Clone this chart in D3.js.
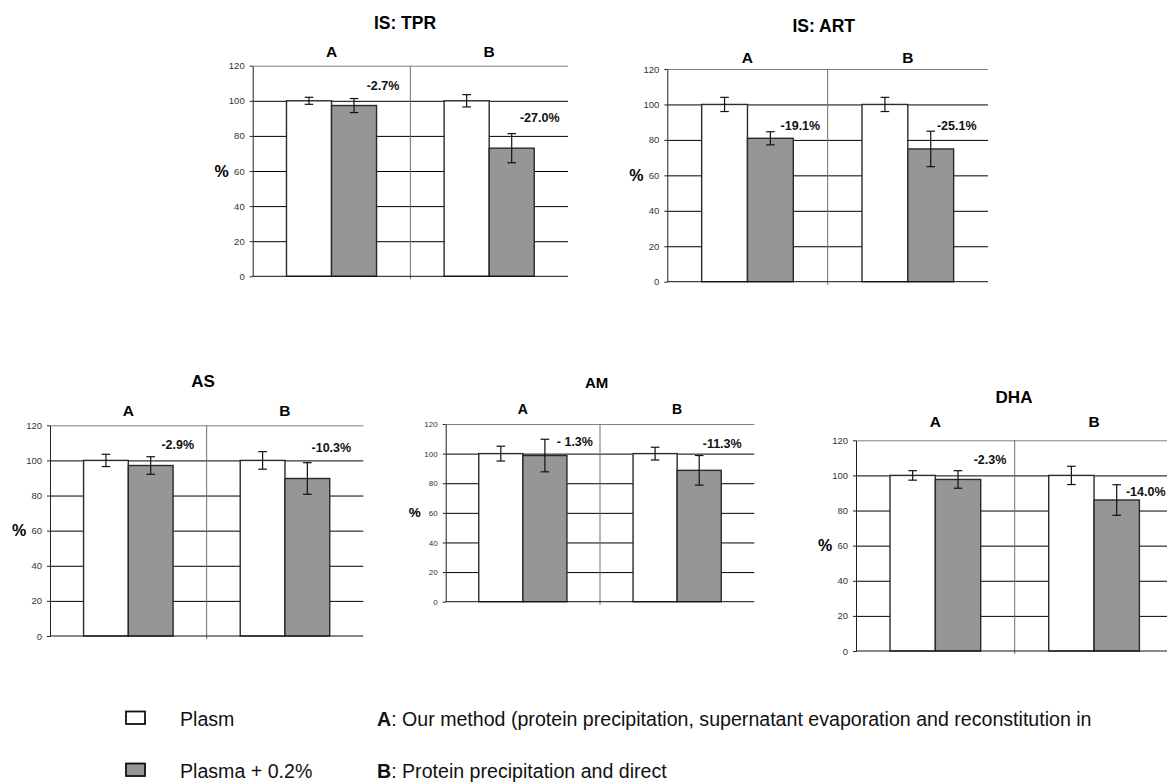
<!DOCTYPE html>
<html>
<head>
<meta charset="utf-8">
<script src="https://cdn.jsdelivr.net/npm/d3@7/dist/d3.min.js"></script>
<style>
  html, body { margin: 0; padding: 0; background: #fff; }
  svg { display: block; font-family: "Liberation Sans", Arial, sans-serif; }
</style>
</head>
<body>
<svg id="chart" width="1167" height="782"></svg>
<script>
// ---------------- data ----------------
const panelTitles = ["IS: TPR", "IS: ART", "AS", "AM", "DHA"];
const methods = ["A", "B"];
const seriesNames = ["Plasm", "Plasma + 0.2%"];
const plasmMean = [[100, 100], [100, 100], [100, 100], [100, 100], [100, 100]];
const plasmErr = [[2, 3.5], [4, 4], [3.5, 5], [5, 4.3], [2.7, 5.2]];
const spikedMean = [[97.3, 73.0], [80.9, 74.9], [97.1, 89.7], [98.7, 88.7], [97.7, 86.0]];
const spikedErr = [[4, 8.3], [3.7, 10], [5, 9], [11, 10], [5, 8.7]];
const changeLabels = [["-2.7%", "-27.0%"], ["-19.1%", "-25.1%"], ["-2.9%", "-10.3%"], ["- 1.3%", "-11.3%"], ["-2.3%", "-14.0%"]];
const yTicks = [0, 20, 40, 60, 80, 100, 120];
const legendNotes = [
  ["A", ": Our method (protein precipitation, supernatant evaporation and reconstitution in"],
  ["B", ": Protein precipitation and direct"]
];

// ---------------- layout (positions / sizes) ----------------
const layout = [
  { left: 252.7, right: 568, top: 65.7, bottom: 276.3, titleX: 405, titleY: 29, titleSize: 17.5, catY: 57, catSize: 15.5, tickSize: 9.5, pctSize: 16, labSize: 12.5,
    labPos: [[29, 108.5], [28, 90]] },
  { left: 667.3, right: 988, top: 69, bottom: 281.7, titleX: 823.7, titleY: 31.7, titleSize: 17.5, catY: 62.7, catSize: 15.5, tickSize: 9.5, pctSize: 16, labSize: 12.5,
    labPos: [[30, 87.8], [26, 87.8]] },
  { left: 50, right: 363.3, top: 425.3, bottom: 636, titleX: 203, titleY: 386.7, titleSize: 17, catY: 416, catSize: 15.5, tickSize: 9.5, pctSize: 16, labSize: 12.5,
    labPos: [[27, 108.8], [24, 106.9]] },
  { left: 445.7, right: 754.3, top: 424, bottom: 601.7, titleX: 596.7, titleY: 388.3, titleSize: 15, catY: 414, catSize: 14, tickSize: 8, pctSize: 13.5, labSize: 12.5,
    labPos: [[30, 108], [23, 106.3]] },
  { left: 856, right: 1173.4, top: 440.3, bottom: 651, titleX: 1014, titleY: 403.3, titleSize: 17, catY: 427.3, catSize: 15.5, tickSize: 9.5, pctSize: 16, labSize: 12.5,
    labPos: [[32, 108.8], [29, 90.7]] }
];
const fills = ["#ffffff", "#969696"];

const svg = d3.select("#chart");

panelTitles.forEach((title, p) => {
  const L = layout[p];
  const g = svg.append("g");
  const x0 = d3.scaleBand().domain(methods).range([L.left, L.right]).paddingInner(0).paddingOuter(0);
  const x1 = d3.scaleBand().domain(seriesNames).range([0, x0.bandwidth()]).paddingInner(0).paddingOuter(0.75);
  const y = d3.scaleLinear().domain([0, 120]).range([L.bottom, L.top]);

  // gridlines
  g.append("g")
    .attr("transform", `translate(${L.left},0)`)
    .call(d3.axisLeft(y).tickValues(yTicks.filter(t => t > 0)).tickSize(-(L.right - L.left)).tickFormat(""))
    .call(s => s.select(".domain").remove())
    .call(s => s.selectAll(".tick line").attr("stroke", d => d === 120 ? "#808080" : "#000").attr("stroke-width", 1));

  // category divider
  methods.slice(1).forEach(m => {
    g.append("line")
      .attr("x1", x0(m)).attr("x2", x0(m))
      .attr("y1", L.top).attr("y2", L.bottom + 3)
      .attr("stroke", "#707070").attr("stroke-width", 1);
  });

  // bars
  const rows = [];
  methods.forEach((m, i) => {
    rows.push({ m, s: seriesNames[0], v: plasmMean[p][i], e: plasmErr[p][i], k: 0 });
    rows.push({ m, s: seriesNames[1], v: spikedMean[p][i], e: spikedErr[p][i], k: 1 });
  });
  g.selectAll("rect.bar").data(rows).enter().append("rect")
    .attr("class", "bar")
    .attr("x", d => x0(d.m) + x1(d.s))
    .attr("y", d => y(d.v))
    .attr("width", x1.bandwidth())
    .attr("height", d => y(0) - y(d.v))
    .attr("fill", d => fills[d.k])
    .attr("stroke", "#2a2a2a").attr("stroke-width", 1.4);

  // error bars
  const eb = g.selectAll("g.err").data(rows).enter().append("g").attr("class", "err")
    .attr("transform", d => `translate(${x0(d.m) + x1(d.s) + x1.bandwidth() / 2},0)`);
  eb.append("line").attr("x1", 0).attr("x2", 0)
    .attr("y1", d => y(d.v + d.e)).attr("y2", d => y(d.v - d.e))
    .attr("stroke", "#111").attr("stroke-width", 1.2);
  eb.append("line").attr("x1", -4.3).attr("x2", 4.3)
    .attr("y1", d => y(d.v + d.e)).attr("y2", d => y(d.v + d.e))
    .attr("stroke", "#111").attr("stroke-width", 1.2);
  eb.append("line").attr("x1", -4.3).attr("x2", 4.3)
    .attr("y1", d => y(d.v - d.e)).attr("y2", d => y(d.v - d.e))
    .attr("stroke", "#111").attr("stroke-width", 1.2);

  // y axis
  g.append("g")
    .attr("transform", `translate(${L.left},0)`)
    .call(d3.axisLeft(y).tickValues(yTicks).tickSizeInner(3).tickSizeOuter(0).tickPadding(5))
    .call(s => s.select(".domain").attr("stroke", "#222"))
    .call(s => s.selectAll(".tick line").attr("stroke", "#222"))
    .call(s => s.selectAll(".tick text").attr("fill", "#333").attr("font-size", L.tickSize)
      .attr("font-family", "'Liberation Sans', Arial, sans-serif"));

  // x axis baseline
  g.append("line")
    .attr("x1", L.left).attr("x2", L.right)
    .attr("y1", y(0)).attr("y2", y(0))
    .attr("stroke", "#111").attr("stroke-width", 1);

  // title
  g.append("text").attr("x", L.titleX).attr("y", L.titleY)
    .attr("text-anchor", "middle").attr("font-weight", "bold").attr("font-size", L.titleSize)
    .text(title);

  // method labels
  g.selectAll("text.cat").data(methods).enter().append("text")
    .attr("class", "cat")
    .attr("x", d => x0(d) + x0.bandwidth() / 2).attr("y", L.catY)
    .attr("text-anchor", "middle").attr("font-weight", "bold").attr("font-size", L.catSize)
    .text(d => d);

  // % axis title
  g.append("text").attr("x", L.left - 31).attr("y", y(60))
    .attr("text-anchor", "middle").attr("dominant-baseline", "central")
    .attr("font-weight", "bold").attr("font-size", L.pctSize)
    .text("%");

  // change labels
  methods.forEach((m, i) => {
    const cx = x0(m) + x1(seriesNames[1]) + x1.bandwidth() / 2 + L.labPos[i][0];
    g.append("text").attr("x", cx).attr("y", y(L.labPos[i][1]))
      .attr("text-anchor", "middle").attr("dominant-baseline", "central")
      .attr("font-weight", "bold").attr("font-size", L.labSize).attr("fill", "#111")
      .text(changeLabels[p][i]);
  });
});

// ---------------- legend ----------------
const legY = [726, 778];
const leg = svg.append("g").attr("font-size", 19.6).attr("fill", "#111");
seriesNames.forEach((s, i) => {
  leg.append("rect").attr("x", 126).attr("y", legY[i] - 14.5).attr("width", 19).attr("height", 12.5)
    .attr("fill", fills[i]).attr("stroke", "#111").attr("stroke-width", 1.8);
  leg.append("text").attr("x", 180).attr("y", legY[i]).text(s);
  const t = leg.append("text").attr("x", 377).attr("y", legY[i]);
  t.append("tspan").attr("font-weight", "bold").text(legendNotes[i][0]);
  t.append("tspan").text(legendNotes[i][1]);
});
</script>
</body>
</html>
